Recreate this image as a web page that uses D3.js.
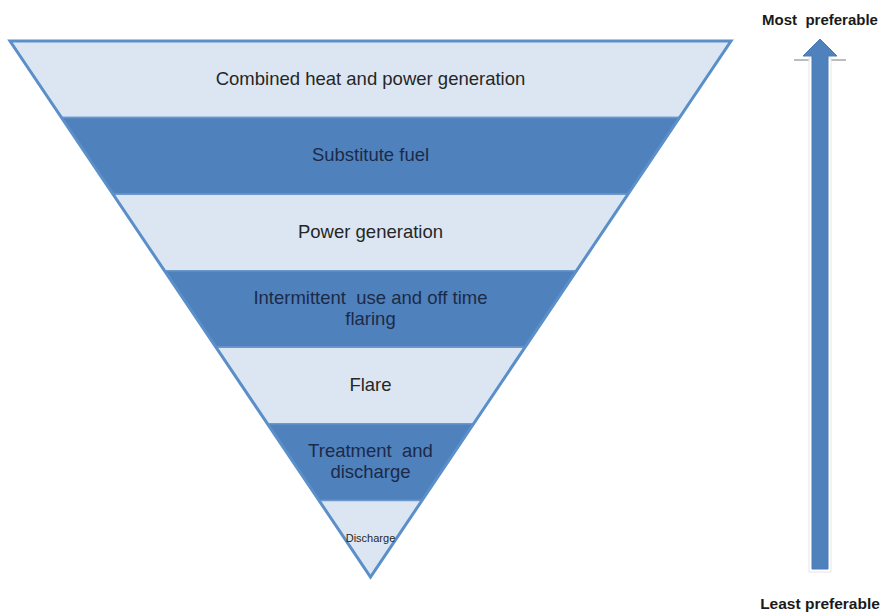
<!DOCTYPE html>
<html>
<head>
<meta charset="utf-8">
<script src="https://cdn.jsdelivr.net/npm/d3@7"></script>
<style>
  body { margin: 0; background: #fff; }
  svg { display: block; }
  text { font-family: "Liberation Sans", Arial, sans-serif; }
</style>
</head>
<body>
<svg id="chart" width="881" height="612"></svg>
<script>
// levels from top (most preferable) to bottom
const levels = ["chp", "substitute", "power", "intermittent", "flare", "treatment", "discharge"];
const labels = [
    ["Combined heat and power generation"],
    ["Substitute fuel"],
    ["Power generation"],
    ["Intermittent  use and off time", "flaring"],
    ["Flare"],
    ["Treatment  and", "discharge"],
    ["Discharge"]
];
const shades = ["light", "dark", "light", "dark", "light", "dark", "light"];
const topLabel = "Most  preferable";
const bottomLabel = "Least preferable";

const svg = d3.select('#chart');

// triangle geometry
let topY = 41, apexY = 577;
let leftX = 10, rightX = 731, apexX = 370.5;

let y = d3.scaleBand()
    .domain(levels)
    .range([topY, apexY])
    .padding(0);

// half width of the triangle at a given y
let halfW = d3.scaleLinear()
    .domain([topY, apexY])
    .range([(rightX - leftX) / 2, 0]);

let fills = { light: "#dce6f2", dark: "#4f81bd" };
let textCol = { light: "#262626", dark: "#1c2a48" };

let bands = svg.append('g').attr('id', 'bands');

levels.forEach((d, i) => {
    let y0 = y(d), y1 = y(d) + y.bandwidth();
    let pts = [
        [apexX - halfW(y0), y0], [apexX + halfW(y0), y0],
        [apexX + halfW(y1), y1], [apexX - halfW(y1), y1]
    ];
    bands.append('path')
        .attr('d', d3.line()(pts) + 'Z')
        .attr('fill', fills[shades[i]])
        .attr('stroke', '#6d98cc')
        .attr('stroke-width', 1.5);
});

// outline
svg.append('path')
    .attr('d', d3.line()([[leftX, topY], [rightX, topY], [apexX, apexY]]) + 'Z')
    .attr('fill', 'none')
    .attr('stroke', '#5b8fc9')
    .attr('stroke-width', 3)
    .attr('stroke-linejoin', 'miter');

// labels
levels.forEach((d, i) => {
    let lines = labels[i];
    let small = d === "discharge";
    let fs = small ? 11 : 18.5;
    let lh = 21;
    let cy = y(d) + y.bandwidth() / 2 - 1;
    let t = svg.append('text')
        .attr('x', apexX)
        .attr('text-anchor', 'middle')
        .attr('font-size', fs)
        .attr('fill', textCol[shades[i]])
        .style('white-space', 'pre');
    lines.forEach((ln, j) => {
        t.append('tspan')
            .attr('x', apexX)
            .attr('y', cy + (j - (lines.length - 1) / 2) * lh)
            .attr('dy', '0.35em')
            .text(ln);
    });
});

// arrow on the right
let ax = 820;
let arrow = svg.append('g').attr('id', 'arrow');
arrow.append('line')
    .attr('x1', 794).attr('x2', 846)
    .attr('y1', 60).attr('y2', 60)
    .attr('stroke', '#bdbdbd').attr('stroke-width', 2);
arrow.append('rect')
    .attr('x', ax - 11).attr('y', 58)
    .attr('width', 22).attr('height', 514)
    .attr('fill', '#fff')
    .attr('stroke', '#e6e6e6').attr('stroke-width', 1);
arrow.append('path')
    .attr('d', d3.line()([
        [ax - 8, 569], [ax - 8, 56], [ax - 17, 56], [ax, 39],
        [ax + 17, 56], [ax + 8, 56], [ax + 8, 569]
    ]) + 'Z')
    .attr('fill', '#4f81bd')
    .attr('stroke', '#4a7ab5')
    .attr('stroke-width', 1);

svg.append('text')
    .attr('x', ax).attr('y', 25)
    .attr('text-anchor', 'middle')
    .attr('font-size', 15)
    .attr('font-weight', 'bold')
    .attr('fill', '#1a1a1a')
    .style('white-space', 'pre')
    .text(topLabel);

svg.append('text')
    .attr('x', ax).attr('y', 609)
    .attr('text-anchor', 'middle')
    .attr('font-size', 15.5)
    .attr('font-weight', 'bold')
    .attr('fill', '#1a1a1a')
    .text(bottomLabel);
</script>
</body>
</html>
